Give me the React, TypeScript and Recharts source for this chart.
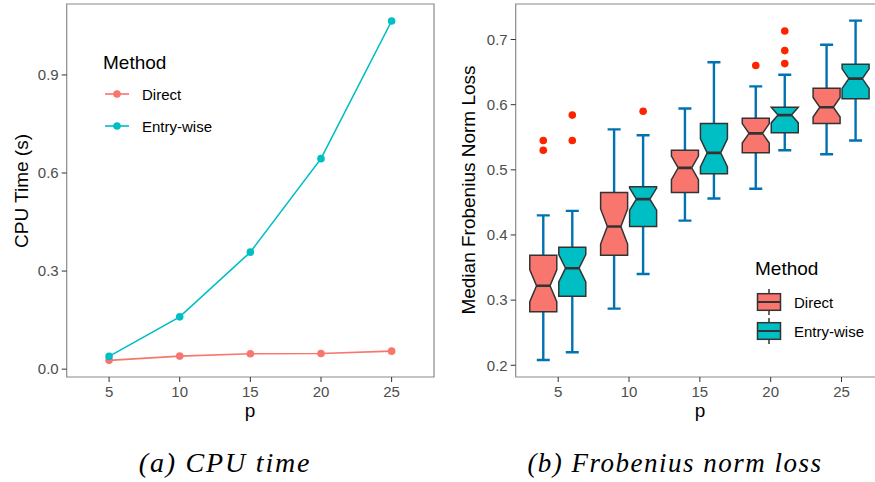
import { Bar, ComposedChart, Legend, Line, LineChart, ReferenceArea, XAxis, YAxis } from "recharts";

const pValues = [5, 10, 15, 20, 25];
const pTicks = [5, 10, 15, 20, 25];

// CPU time (s)
const cpuDirect = [0.027, 0.04, 0.047, 0.048, 0.055];
const cpuEntry = [0.039, 0.16, 0.358, 0.644, 1.065];
const cpuTicks = [0, 0.3, 0.6, 0.9];

// Frobenius norm loss boxplots
const directLow = [0.208, 0.287, 0.422, 0.471, 0.524];
const directQ1 = [0.282, 0.369, 0.465, 0.526, 0.571];
const directMedian = [0.322, 0.413, 0.503, 0.556, 0.596];
const directQ3 = [0.369, 0.465, 0.53, 0.579, 0.625];
const directHigh = [0.43, 0.562, 0.594, 0.628, 0.692];
const directNotch = [0.0245, 0.027, 0.018, 0.015, 0.015];
const directOutliers = [[0.545, 0.53], [], [], [0.66], []];

const entryLow = [0.22, 0.34, 0.456, 0.53, 0.545];
const entryQ1 = [0.306, 0.413, 0.494, 0.557, 0.609];
const entryMedian = [0.349, 0.455, 0.526, 0.584, 0.64];
const entryQ3 = [0.381, 0.474, 0.571, 0.596, 0.662];
const entryHigh = [0.437, 0.553, 0.665, 0.646, 0.729];
const entryNotch = [0.021, 0.017, 0.0215, 0.012, 0.015];
const entryOutliers = [[0.584, 0.545], [0.59], [], [0.713, 0.683, 0.663], []];

const lossTicks = [0.2, 0.3, 0.4, 0.5, 0.6, 0.7];

const RED = "#F8766D";
const TEAL = "#00BFC4";
const WHISKER = "#0072B2";
const OUTLIER = "#FF2400";
const FONT = '"Liberation Sans", Arial, sans-serif';

const cpuData = pValues.map((p, i) => ({ p, direct: cpuDirect[i], entry: cpuEntry[i] }));

const lossData = pValues.map((p, i) => ({
  p,
  direct: [directLow[i], directHigh[i]],
  entry: [entryLow[i], entryHigh[i]],
  directStats: { q1: directQ1[i], med: directMedian[i], q3: directQ3[i], notch: directNotch[i], out: directOutliers[i] },
  entryStats: { q1: entryQ1[i], med: entryMedian[i], q3: entryQ3[i], notch: entryNotch[i], out: entryOutliers[i] },
}));

function BoxShape(props: any) {
  const { x, y, width, height, payload, series, color } = props;
  const [lo, hi] = payload[series];
  const s = payload[series + "Stats"];
  const k = Math.abs(height) / (hi - lo);
  const top = Math.min(y, y + height);
  const py = (v: number) => top + (hi - v) * k;
  const cx = x + width / 2;
  const capHalf = 6.5;
  const q1 = py(s.q1);
  const q3 = py(s.q3);
  const med = py(s.med);
  const nHi = py(s.med + s.notch);
  const nLo = py(s.med - s.notch);
  const inset = width / 4;
  const pts = [
    [x, q3], [x + width, q3], [x + width, nHi], [x + width - inset, med], [x + width, nLo],
    [x + width, q1], [x, q1], [x, nLo], [x + inset, med], [x, nHi],
  ].map((pt) => pt.join(",")).join(" ");
  return (
    <g>
      <line x1={cx} x2={cx} y1={py(hi)} y2={py(lo)} stroke={WHISKER} strokeWidth={2.4} />
      <line x1={cx - capHalf} x2={cx + capHalf} y1={py(hi)} y2={py(hi)} stroke={WHISKER} strokeWidth={2.4} />
      <line x1={cx - capHalf} x2={cx + capHalf} y1={py(lo)} y2={py(lo)} stroke={WHISKER} strokeWidth={2.4} />
      <polygon points={pts} fill={color} stroke="#333333" strokeWidth={1.5} />
      <line x1={x + inset} x2={x + width - inset} y1={med} y2={med} stroke="#333333" strokeWidth={2.6} />
      {s.out.map((v: number, j: number) => (
        <circle key={j} cx={cx} cy={py(v)} r={3.8} fill={OUTLIER} />
      ))}
    </g>
  );
}

function LineLegend() {
  const items = [
    { name: "Direct", color: RED, y: 54 },
    { name: "Entry-wise", color: TEAL, y: 86 },
  ];
  return (
    <svg width={200} height={110} style={{ fontFamily: FONT }}>
      <text x={3} y={22} fontSize={19} dominantBaseline="central" fill="#000">Method</text>
      {items.map((it) => (
        <g key={it.name}>
          <line x1={5} x2={29} y1={it.y} y2={it.y} stroke={it.color} strokeWidth={1.6} />
          <circle cx={17} cy={it.y} r={3.8} fill={it.color} />
          <text x={42} y={it.y} fontSize={15} dominantBaseline="central" fill="#000">{it.name}</text>
        </g>
      ))}
    </svg>
  );
}

function BoxLegend() {
  const items = [
    { name: "Direct", color: RED, y: 52 },
    { name: "Entry-wise", color: TEAL, y: 81 },
  ];
  return (
    <svg width={200} height={110} style={{ fontFamily: FONT }}>
      <text x={5} y={18} fontSize={19} dominantBaseline="central" fill="#000">Method</text>
      {items.map((it) => (
        <g key={it.name}>
          <line x1={19} x2={19} y1={it.y - 13} y2={it.y + 13} stroke="#333333" strokeWidth={1.5} />
          <rect x={7.5} y={it.y - 8.3} width={23} height={16.6} fill={it.color} stroke="#333333" strokeWidth={1.5} />
          <line x1={7.5} x2={30.5} y1={it.y} y2={it.y} stroke="#333333" strokeWidth={2} />
          <text x={44} y={it.y} fontSize={15} dominantBaseline="central" fill="#000">{it.name}</text>
        </g>
      ))}
    </svg>
  );
}

const tickStyle = { fill: "#4D4D4D", fontSize: 15, fontFamily: FONT };
const titleStyle: React.CSSProperties = {
  position: "absolute",
  fontFamily: FONT,
  fontSize: 19,
  color: "#000",
  whiteSpace: "nowrap",
  lineHeight: "20px",
};
const captionStyle: React.CSSProperties = {
  position: "absolute",
  fontFamily: '"Liberation Serif", "Times New Roman", serif',
  fontStyle: "italic",
  fontSize: 27,
  letterSpacing: 1.5,
  color: "#000",
  whiteSpace: "nowrap",
  transform: "translate(-50%, -50%)",
};

export default function App() {
  return (
    <div
      style={{
        position: "absolute",
        left: 0,
        top: 0,
        width: 875,
        height: 482,
        overflow: "hidden",
        background: "#fff",
        fontFamily: FONT,
      }}
    >
      <div style={{ position: "absolute", left: 0, top: 0 }}>
        <LineChart width={440} height={430} data={cpuData} margin={{ top: 4, right: 6, left: 0, bottom: 13 }}>
          <XAxis
            dataKey="p"
            type="number"
            domain={[2, 28]}
            ticks={pTicks}
            allowDataOverflow
            height={40}
            axisLine={false}
            tickSize={5}
            tickMargin={4}
            tickLine={{ stroke: "#333333" }}
            tick={tickStyle}
          />
          <YAxis
            type="number"
            domain={[-0.024, 1.117]}
            ticks={cpuTicks}
            allowDataOverflow
            width={66.7}
            axisLine={false}
            tickSize={5}
            tickMargin={3}
            tickLine={{ stroke: "#333333" }}
            tick={tickStyle}
            tickFormatter={(v: number) => v.toFixed(1)}
          />
          <ReferenceArea x1={2} x2={28} y1={-0.024} y2={1.117} fill="none" stroke="#8a8a8a" strokeWidth={1.2} />
          <Line
            dataKey="direct"
            name="Direct"
            stroke={RED}
            strokeWidth={1.6}
            dot={{ r: 3.8, fill: RED, stroke: RED, strokeWidth: 0 }}
            isAnimationActive={false}
          />
          <Line
            dataKey="entry"
            name="Entry-wise"
            stroke={TEAL}
            strokeWidth={1.6}
            dot={{ r: 3.8, fill: TEAL, stroke: TEAL, strokeWidth: 0 }}
            isAnimationActive={false}
          />
          <Legend
            layout="vertical"
            align="center"
            verticalAlign="middle"
            content={() => <LineLegend />}
            wrapperStyle={{ left: 100, top: 40, width: 200, height: 110 }}
          />
        </LineChart>
      </div>

      <div style={{ position: "absolute", left: 440, top: 0 }}>
        <ComposedChart
          width={450}
          height={430}
          data={lossData}
          margin={{ top: 4, right: 6, left: 0, bottom: 13 }}
          barSize={27}
          barGap={2}
        >
          <XAxis
            dataKey="p"
            type="number"
            domain={[2, 28]}
            ticks={pTicks}
            allowDataOverflow
            height={40}
            axisLine={false}
            tickSize={5}
            tickMargin={4}
            tickLine={{ stroke: "#333333" }}
            tick={tickStyle}
          />
          <YAxis
            type="number"
            domain={[0.182, 0.7545]}
            ticks={lossTicks}
            allowDataOverflow
            width={75.7}
            axisLine={false}
            tickSize={5}
            tickMargin={3}
            tickLine={{ stroke: "#333333" }}
            tick={tickStyle}
            tickFormatter={(v: number) => v.toFixed(1)}
          />
          <ReferenceArea x1={2} x2={28} y1={0.182} y2={0.7545} fill="none" stroke="#8a8a8a" strokeWidth={1.2} />
          <Bar
            dataKey="direct"
            name="Direct"
            fill={RED}
            isAnimationActive={false}
            shape={(p: any) => <BoxShape {...p} series="direct" color={RED} />}
          />
          <Bar
            dataKey="entry"
            name="Entry-wise"
            fill={TEAL}
            isAnimationActive={false}
            shape={(p: any) => <BoxShape {...p} series="entry" color={TEAL} />}
          />
          <Legend
            layout="vertical"
            align="center"
            verticalAlign="middle"
            content={() => <BoxLegend />}
            wrapperStyle={{ left: 310, top: 250, width: 200, height: 110 }}
          />
        </ComposedChart>
      </div>

      <div style={{ ...titleStyle, left: 22, top: 191, transform: "translate(-50%, -50%) rotate(-90deg)" }}>
        CPU Time (s)
      </div>
      <div style={{ ...titleStyle, left: 250, top: 411, transform: "translate(-50%, -50%)" }}>p</div>
      <div style={{ ...titleStyle, left: 469, top: 190, transform: "translate(-50%, -50%) rotate(-90deg)" }}>
        Median Frobenius Norm Loss
      </div>
      <div style={{ ...titleStyle, left: 700, top: 411, transform: "translate(-50%, -50%)" }}>p</div>

      <div style={{ ...captionStyle, left: 225, top: 463, fontSize: 28, letterSpacing: 1.8 }}>(a) CPU time</div>
      <div style={{ ...captionStyle, left: 675, top: 463 }}>(b) Frobenius norm loss</div>
    </div>
  );
}
